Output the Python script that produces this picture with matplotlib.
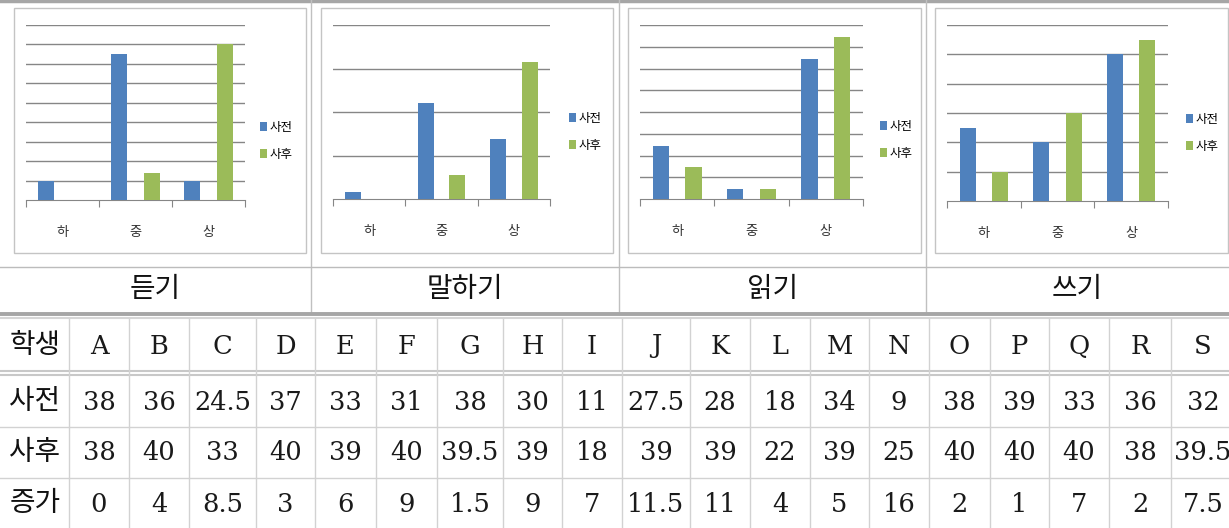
import numpy as np
import matplotlib.pyplot as plt
from matplotlib.patches import Rectangle

# ---- data ----
levels = ['하', '중', '상']
series_names = ['사전', '사후']
skills = ['듣기', '말하기', '읽기', '쓰기']

listen_pre = [1, 7.5, 1]
listen_post = [0, 1.4, 8]
speak_pre = [0.17, 2.2, 1.37]
speak_post = [0, 0.56, 3.16]
read_pre = [2.45, 0.46, 6.44]
read_post = [1.47, 0.46, 7.43]
write_pre = [2.5, 2.0, 5.0]
write_post = [1.0, 3.0, 5.5]

students = list('ABCDEFGHIJKLMNOPQRS')
score_pre = ['38', '36', '24.5', '37', '33', '31', '38', '30', '11', '27.5',
             '28', '18', '34', '9', '38', '39', '33', '36', '32']
score_post = ['38', '40', '33', '40', '39', '40', '39.5', '39', '18', '39',
              '39', '22', '39', '25', '40', '40', '40', '38', '39.5']
score_gain = ['0', '4', '8.5', '3', '6', '9', '1.5', '9', '7', '11.5',
              '11', '4', '5', '16', '2', '1', '7', '2', '7.5']
row_names = ['학생', '사전', '사후', '증가']

BLUE = '#4F81BD'
GREEN = '#9BBB59'
GRID = '#868686'
KR = ['Noto Sans CJK KR', 'DejaVu Sans']
SERIF = ['DejaVu Serif', 'Noto Sans CJK KR']

W, H = 1229, 528


def px_axes(fig, x0, y0, x1, y1):
    return fig.add_axes([x0 / W, 1 - y1 / H, (x1 - x0) / W, (y1 - y0) / H])


def draw_chart(fig, ax, pre, post, gmax, legend_xy):
    x = np.arange(len(levels)) + 0.5
    b1 = ax.bar(x - 0.22, pre, width=0.22, color=BLUE, zorder=3)
    b2 = ax.bar(x + 0.22, post, width=0.22, color=GREEN, zorder=3)
    ax.set_xlim(0, 3)
    ax.set_ylim(0, gmax)
    ax.set_yticks(np.arange(1, gmax + 1))
    ax.yaxis.grid(True, color=GRID, linewidth=1)
    ax.set_axisbelow(True)
    ax.tick_params(axis='y', length=0, labelleft=False)
    for s in ['top', 'right', 'left']:
        ax.spines[s].set_visible(False)
    ax.spines['bottom'].set_color(GRID)
    ax.set_xticks([0, 1, 2, 3])
    ax.set_xticklabels([])
    ax.tick_params(axis='x', which='major', direction='out', length=5, color=GRID)
    ax.set_xticks(x, minor=True)
    ax.set_xticklabels(levels, minor=True, family=KR, fontsize=9.5, color='#333333')
    ax.tick_params(axis='x', which='minor', length=0, pad=19)
    ax.set_facecolor('none')
    ax.legend([b1, b2], series_names, loc='upper left',
              bbox_to_anchor=(legend_xy[0] / W, 1 - legend_xy[1] / H),
              bbox_transform=fig.transFigure, frameon=False,
              prop={'family': KR, 'size': 9}, handlelength=0.55, handleheight=0.7,
              handletextpad=0.2, labelspacing=1.1, borderpad=0, borderaxespad=0)


def main():
    fig = plt.figure(figsize=(W / 100, H / 100), dpi=100)
    bg = fig.add_axes([0, 0, 1, 1])
    bg.set_xlim(0, W)
    bg.set_ylim(H, 0)
    bg.axis('off')

    # chart panels: frame box, plot area, legend position, grid max
    frames = [(14, 8, 306, 253), (321, 8, 613, 253), (628, 8, 921, 253), (935, 8, 1228, 253)]
    areas = [(26, 25, 245, 200), (333, 25, 550, 199), (640, 25, 863, 199), (947, 25, 1168, 201)]
    legends = [(260, 121), (569, 112), (880, 120), (1186, 113)]
    gmaxes = [9, 4, 8, 6]
    data = [(listen_pre, listen_post), (speak_pre, speak_post),
            (read_pre, read_post), (write_pre, write_post)]

    for fr in frames:
        bg.add_patch(Rectangle((fr[0], fr[1]), fr[2] - fr[0], fr[3] - fr[1],
                               fill=False, edgecolor='#c4c4c4', linewidth=1))
    for i in range(4):
        ax = px_axes(fig, *areas[i])
        draw_chart(fig, ax, data[i][0], data[i][1], gmaxes[i], legends[i])

    # top frame lines
    bg.plot([0, W], [1, 1], color='#a6a6a6', linewidth=2.5)
    for xv in [311, 619, 926]:
        bg.plot([xv, xv], [0, 313], color='#c0c0c0', linewidth=1)
    bg.plot([0, W], [267, 267], color='#bcbcbc', linewidth=1)

    # skill labels
    cells = [0, 311, 619, 926, W]
    for i, name in enumerate(skills):
        bg.text((cells[i] + cells[i + 1]) / 2, 289, name, family=KR, fontsize=20,
                fontweight='light', ha='center', va='center', color='#111111')

    # table lines
    bg.plot([0, W], [313.5, 313.5], color='#a6a6a6', linewidth=2.8)
    bg.plot([0, W], [317.5, 317.5], color='#d6d6d6', linewidth=1.5)
    bg.plot([0, W], [370.5, 370.5], color='#c8c8c8', linewidth=1.5)
    bg.plot([0, W], [374.5, 374.5], color='#c8c8c8', linewidth=1.5)
    bg.plot([0, W], [426.5, 426.5], color='#d2d2d2', linewidth=1)
    bg.plot([0, W], [478, 478], color='#d2d2d2', linewidth=1)

    cols = [0, 69, 129, 189, 256, 315, 376, 437, 503, 562, 622, 690, 750,
            810, 869, 929, 990, 1049, 1109, 1171, 1235]
    for xv in cols[1:-1]:
        bg.plot([xv, xv], [319, H], color='#d2d2d2', linewidth=1)

    row_y = [345, 401, 452, 503]
    for r, name in enumerate(row_names):
        bg.text(cols[0] + 35, row_y[r], name, family=KR, fontsize=20,
                fontweight='light', ha='center', va='center', color='#111111')
    rows = [students, score_pre, score_post, score_gain]
    for r, vals in enumerate(rows):
        for j, v in enumerate(vals):
            cx = (cols[j + 1] + cols[j + 2]) / 2
            bg.text(cx, row_y[r] + 1, v, family=SERIF, fontsize=18.5,
                    ha='center', va='center', color='#1a1a1a')

    plt.savefig('out.png', dpi=100)


if __name__ == '__main__':
    main()
